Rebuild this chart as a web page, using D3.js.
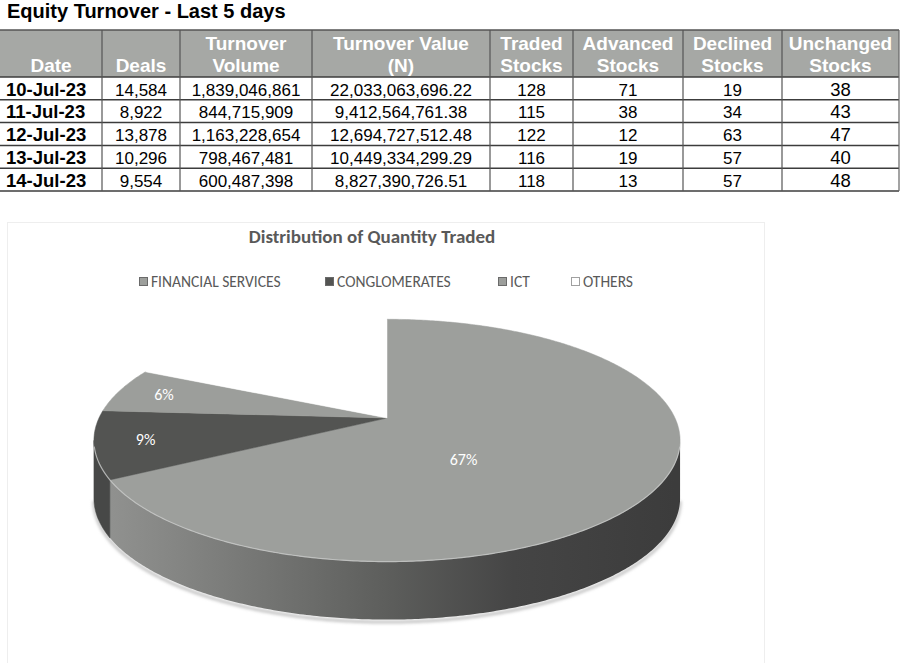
<!DOCTYPE html>
<head>
	<meta charset="UTF-8">
	<script src="https://d3js.org/d3.v7.min.js"></script>
	<title>Equity Turnover - Last 5 days</title>
<style>
	body{
		margin: 0;
		background-color: #ffffff;
	}
	svg{
		display: block;
	}
</style>
</head>

<body>
	<svg width=900 height=663></svg>
</body>

<script>
	// Table data
	var dates = ["10-Jul-23", "11-Jul-23", "12-Jul-23", "13-Jul-23", "14-Jul-23"];
	var deals = [14584, 8922, 13878, 10296, 9554];
	var turnoverVolume = [1839046861, 844715909, 1163228654, 798467481, 600487398];
	var turnoverValue = [22033063696.22, 9412564761.38, 12694727512.48, 10449334299.29, 8827390726.51];
	var tradedStocks = [128, 115, 122, 116, 118];
	var advancedStocks = [71, 38, 12, 19, 13];
	var declinedStocks = [19, 34, 63, 57, 57];
	var unchangedStocks = [38, 43, 47, 40, 48];
	var headers = [["Date"], ["Deals"], ["Turnover", "Volume"], ["Turnover Value", "(N)"],
		["Traded", "Stocks"], ["Advanced", "Stocks"], ["Declined", "Stocks"], ["Unchanged", "Stocks"]];

	// Pie data
	var sectors = ["FINANCIAL SERVICES", "CONGLOMERATES", "ICT", "OTHERS"];
	var shares = [67, 9, 6, 18];
	var sectorColors = ["#9d9f9c", "#535452", "#9c9e9b", "#ffffff"];

	var svg = d3.select("svg");
	var fmtInt = d3.format(",");
	var fmtDec = d3.format(",.2f");
	var tableFont = "'Liberation Sans', Arial, sans-serif";
	var chartFont = "Carlito, Lato, 'Open Sans', sans-serif";

	// ---------- Title ----------
	svg.append("text")
		.text("Equity Turnover - Last 5 days")
		.attr("x", 7)
		.attr("y", 18)
		.attr("font-family", tableFont)
		.attr("font-weight", "bold")
		.attr("font-size", 20)
		.attr("fill", "#000");

	// ---------- Table ----------
	var colEdges = [0, 102, 180, 312, 490, 573, 683, 782, 899];
	var headTop = 30, headBottom = 77, tableBottom = 191;
	var rowScale = d3.scaleBand()
		.domain(dates)
		.range([headBottom, tableBottom]);

	var table = svg.append("g").attr("id", "table");

	table.append("rect")
		.attr("x", colEdges[0])
		.attr("y", headTop)
		.attr("width", colEdges[colEdges.length-1] - colEdges[0])
		.attr("height", headBottom - headTop)
		.style("fill", "#a6a8a5");

	// header texts
	headers.forEach(function(lines, i){
		var cx = (colEdges[i] + colEdges[i+1]) / 2;
		lines.forEach(function(line, j){
			table.append("text")
				.text(line)
				.attr("x", cx)
				.attr("y", lines.length == 1 ? 72 : 50 + j*22)
				.attr("text-anchor", "middle")
				.attr("font-family", tableFont)
				.attr("font-weight", "bold")
				.attr("font-size", 19)
				.attr("fill", "#fff");
		});
	});

	// body cells
	var columns = [
		dates,
		deals.map(fmtInt),
		turnoverVolume.map(fmtInt),
		turnoverValue.map(fmtDec),
		tradedStocks,
		advancedStocks,
		declinedStocks,
		unchangedStocks
	];
	columns.forEach(function(col, i){
		table.selectAll(null)
			.data(col).enter()
			.append("text")
			.text(function(d) {return d})
			.attr("x", i == 0 ? 6 : (colEdges[i] + colEdges[i+1]) / 2)
			.attr("y", function(d, k) {return rowScale(dates[k]) + 18.5})
			.attr("text-anchor", i == 0 ? "start" : "middle")
			.attr("font-family", tableFont)
			.attr("font-weight", i == 0 ? "bold" : "normal")
			.attr("font-size", i == 0 ? 18.5 : (i == 7 ? 18.5 : 17))
			.attr("fill", "#000");
	});

	// grid lines
	var lineCol = "#3c3c3c";
	table.append("line")
		.attr("x1", 0).attr("x2", 899)
		.attr("y1", headTop).attr("y2", headTop)
		.attr("stroke", "#555").attr("stroke-width", 1.5);
	var rowLines = [headBottom].concat(dates.map(function(d) {return rowScale(d) + rowScale.bandwidth()}));
	table.selectAll(null)
		.data(rowLines).enter()
		.append("line")
		.attr("x1", 0).attr("x2", 899)
		.attr("y1", function(d) {return d}).attr("y2", function(d) {return d})
		.attr("stroke", lineCol).attr("stroke-width", 1.5);
	table.selectAll(null)
		.data(colEdges.slice(1)).enter()
		.append("line")
		.attr("x1", function(d) {return d}).attr("x2", function(d) {return d})
		.attr("y1", headTop).attr("y2", tableBottom)
		.attr("stroke", function(d, i) {return i == colEdges.length-2 ? "#666" : "#555"})
		.attr("stroke-width", 1.2);

	// ---------- Chart box ----------
	var chart = svg.append("g").attr("id", "chart");
	chart.append("rect")
		.attr("x", 7.5).attr("y", 222.5)
		.attr("width", 757).attr("height", 450)
		.style("fill", "none")
		.style("stroke", "#eeeeee");

	chart.append("text")
		.text("Distribution of Quantity Traded")
		.attr("x", 372)
		.attr("y", 243)
		.attr("text-anchor", "middle")
		.attr("font-family", chartFont)
		.attr("font-weight", "bold")
		.attr("font-size", 19)
		.attr("fill", "#595959");

	// legend
	var legendX = [139, 325, 498, 571];
	var legend = chart.append("g").attr("id", "legend");
	sectors.forEach(function(s, i){
		legend.append("rect")
			.attr("x", legendX[i] + 0.5).attr("y", 277.5)
			.attr("width", 8).attr("height", 8)
			.style("fill", sectorColors[i])
			.style("stroke", i == 3 ? "#a0a0a0" : "#6a6a6a")
			.style("stroke-width", 1);
		legend.append("text")
			.text(s)
			.attr("x", legendX[i] + 12)
			.attr("y", 286.5)
			.attr("font-family", chartFont)
			.attr("font-size", 15.5)
			.attr("fill", "#595959");
	});

	// ---------- 3D pie ----------
	var cx = 387, cy = 418, R = 288, A = 117, D = 5.4, thick = 58;
	// project point on the disc (angle clockwise from top, radius fraction, depth fraction)
	function proj(theta, r, z){
		var u = r * Math.sin(theta), v = -r * Math.cos(theta);
		var s = D / (D - v);
		return [cx + R*u*s, cy + A*v*s + thick*z];
	}
	function arcPoints(a0, a1, z){
		var n = Math.max(2, Math.ceil((a1 - a0) / 0.01));
		return d3.range(n + 1).map(function(k) {return proj(a0 + (a1 - a0)*k/n, 1, z)});
	}
	var line = d3.line();
	var sil1 = Math.acos(-1/D), sil2 = 2*Math.PI - sil1;

	var pie = d3.pie().sort(null).value(function(d) {return d})(shares);

	var defs = svg.append("defs");
	var grad = defs.append("linearGradient")
		.attr("id", "sideGrad")
		.attr("gradientUnits", "userSpaceOnUse")
		.attr("x1", cx - R).attr("x2", cx + R)
		.attr("y1", 0).attr("y2", 0);
	[[0, "#929391"], [0.12, "#868785"], [0.5, "#5d5e5c"], [0.72, "#454545"], [1, "#3c3c3c"]].forEach(function(s){
		grad.append("stop").attr("offset", s[0]).attr("stop-color", s[1]);
	});
	defs.append("filter").attr("id", "blur")
		.append("feGaussianBlur").attr("stdDeviation", 1.6);

	var sideFill = ["url(#sideGrad)", "#474847", "#777", "#ccc"];

	// shadow under the front rim
	chart.append("path")
		.attr("d", line(arcPoints(sil1, sil2, 1)))
		.attr("transform", "translate(0,2.5)")
		.style("fill", "none")
		.style("stroke", "#c4c4c4")
		.style("stroke-width", 3)
		.attr("filter", "url(#blur)");

	// side walls of the front half
	pie.forEach(function(d, i){
		var a0 = Math.max(d.startAngle, sil1), a1 = Math.min(d.endAngle, sil2);
		if(a1 <= a0) return;
		var pts = arcPoints(a0, a1, 0).concat(arcPoints(a0, a1, 1).reverse());
		chart.append("path")
			.attr("d", line(pts) + "Z")
			.style("fill", sideFill[i])
			.style("stroke", sideFill[i] == "url(#sideGrad)" ? "none" : sideFill[i])
			.style("stroke-width", 0.5);
	});

	// top faces
	pie.forEach(function(d, i){
		var pts = [proj(0, 0, 0)].concat(arcPoints(d.startAngle, d.endAngle, 0));
		chart.append("path")
			.attr("d", line(pts) + "Z")
			.style("fill", sectorColors[i])
			.style("stroke", sectorColors[i])
			.style("stroke-width", 0.5);
	});

	// light bevel along the front rim
	chart.append("path")
		.attr("d", line(arcPoints(sil1 + 0.05, sil2 - 0.05, 0)))
		.style("fill", "none")
		.style("stroke", "#c6c7c5")
		.style("stroke-width", 1.2)
		.style("opacity", 0.8);

	// percentage labels
	pie.forEach(function(d, i){
		if(sectorColors[i] == "#ffffff") return;
		var mid = (d.startAngle + d.endAngle) / 2;
		var big = d.value > 50;
		var p = proj(mid, big ? 0.3 : 0.83, big ? 0.4 : 0);
		chart.append("text")
			.text(d.value + "%")
			.attr("x", p[0])
			.attr("y", p[1])
			.attr("text-anchor", "middle")
			.attr("dominant-baseline", "central")
			.attr("font-family", chartFont)
			.attr("font-size", 16)
			.attr("fill", "#fff");
	});
</script>
